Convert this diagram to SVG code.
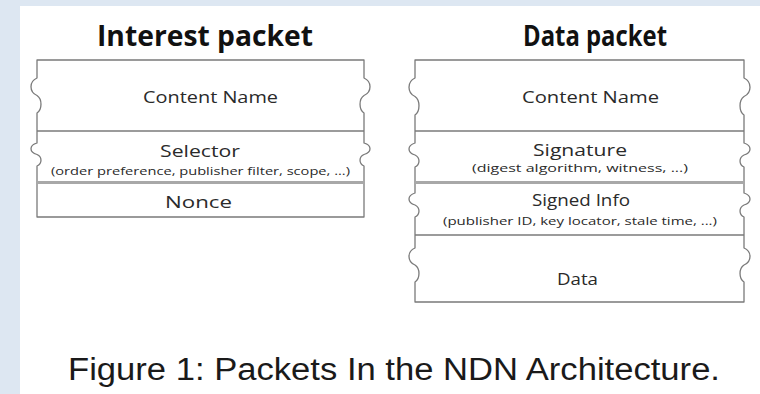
<svg xmlns="http://www.w3.org/2000/svg" width="760" height="394" viewBox="0 0 760 394">
  <defs>
    <style>
      .frame { fill: #ffffff; stroke: #7a7a7a; stroke-width: 1.3; stroke-linejoin: round; }
      .rule { stroke: #7a7a7a; stroke-width: 1.3; fill: none; }
      .rule-thick { stroke: #a8a8a8; stroke-width: 3; fill: none; }
      .title { font-family: "Open Sans", "DejaVu Sans", sans-serif; font-weight: 700; font-size: 28px; fill: #111111; }
      .label { font-family: "Open Sans", "DejaVu Sans", sans-serif; font-size: 17px; fill: #2a2a2a; }
      .sub { font-family: "Open Sans", "DejaVu Sans", sans-serif; font-size: 11px; fill: #2a2a2a; }
      .caption { font-family: "Liberation Sans", Arial, sans-serif; font-size: 31px; fill: #1a1a1a; }
    </style>
  </defs>

  <!-- page background -->
  <rect x="0" y="0" width="760" height="394" fill="#dde7f2"/>
  <rect x="20" y="6" width="740" height="388" fill="#ffffff"/>

  <!-- Interest packet -->
  <g id="interest-packet">
    <text class="title" x="97" y="46" textLength="216" lengthAdjust="spacingAndGlyphs">Interest packet</text>
    <path class="frame" d="M37,60 H364 V78 c8,3.5 8,14 0,17.5 c-5.3,3.5 -5.3,14 0,17.5 V143 c8,2.3 8,9.2 0,11.5 c-5.3,2.3 -5.3,9.2 0,11.5 V217 H37 V166 c5.3,-2.3 5.3,-9.2 0,-11.5 c-8,-2.3 -8,-9.2 0,-11.5 V113 c5.3,-3.5 5.3,-14 0,-17.5 c-8,-3.5 -8,-14 0,-17.5 Z"/>
    <line class="rule" x1="37" y1="131" x2="364" y2="131"/>
    <line class="rule-thick" x1="37" y1="182.5" x2="364" y2="182.5"/>
    <text class="label" x="143" y="103" textLength="135" lengthAdjust="spacingAndGlyphs">Content Name</text>
    <text class="label" x="160" y="157" textLength="80" lengthAdjust="spacingAndGlyphs">Selector</text>
    <text class="sub" x="51" y="175" textLength="299" lengthAdjust="spacingAndGlyphs">(order preference, publisher filter, scope, ...)</text>
    <text class="label" x="165" y="208" textLength="67" lengthAdjust="spacingAndGlyphs">Nonce</text>
  </g>

  <!-- Data packet -->
  <g id="data-packet">
    <text class="title" x="523" y="46" textLength="144" lengthAdjust="spacingAndGlyphs">Data packet</text>
    <path class="frame" d="M415,60 H744 V78 c8,3.7 8,14.8 0,18.5 c-5.3,3.7 -5.3,14.8 0,18.5 V143 c8,2.4 8,9.6 0,12 c-5.3,2.4 -5.3,9.6 0,12 V193 c8,2.4 8,9.6 0,12 c-5.3,2.4 -5.3,9.6 0,12 V248 c8,3.4 8,13.6 0,17 c-5.3,3.4 -5.3,13.6 0,17 V302 H415 V282 c5.3,-3.4 5.3,-13.6 0,-17 c-8,-3.4 -8,-13.6 0,-17 V217 c5.3,-2.4 5.3,-9.6 0,-12 c-8,-2.4 -8,-9.6 0,-12 V167 c5.3,-2.4 5.3,-9.6 0,-12 c-8,-2.4 -8,-9.6 0,-12 V115 c5.3,-3.7 5.3,-14.8 0,-18.5 c-8,-3.7 -8,-14.8 0,-18.5 Z"/>
    <line class="rule" x1="415" y1="131" x2="744" y2="131"/>
    <line class="rule-thick" x1="415" y1="182.5" x2="744" y2="182.5"/>
    <line class="rule" x1="415" y1="235" x2="744" y2="235"/>
    <text class="label" x="522" y="103" textLength="137" lengthAdjust="spacingAndGlyphs">Content Name</text>
    <text class="label" x="533" y="156" textLength="94" lengthAdjust="spacingAndGlyphs">Signature</text>
    <text class="sub" x="472" y="172" textLength="216" lengthAdjust="spacingAndGlyphs">(digest algorithm, witness, ...)</text>
    <text class="label" x="532" y="206" textLength="98" lengthAdjust="spacingAndGlyphs">Signed Info</text>
    <text class="sub" x="443" y="225" textLength="274" lengthAdjust="spacingAndGlyphs">(publisher ID, key locator, stale time, ...)</text>
    <text class="label" x="557" y="285" textLength="41" lengthAdjust="spacingAndGlyphs">Data</text>
  </g>

  <!-- caption -->
  <text class="caption" x="68" y="380" textLength="652" lengthAdjust="spacingAndGlyphs">Figure 1: Packets In the NDN Architecture.</text>
</svg>
